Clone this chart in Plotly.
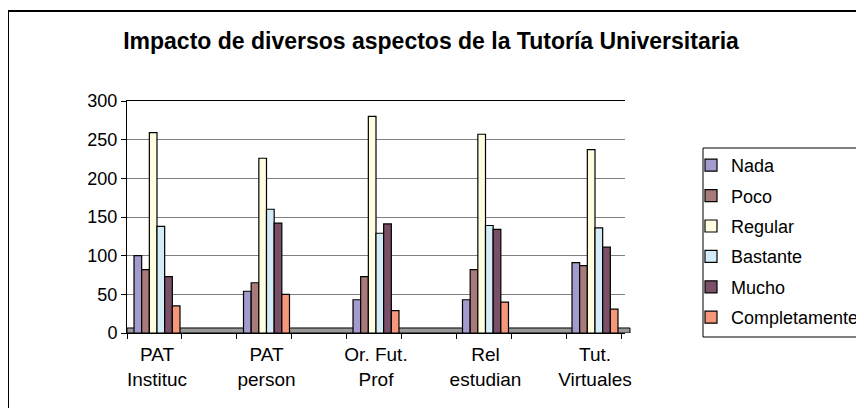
import plotly.graph_objects as go

categories = ["PAT<br>Instituc", "PAT<br>person", "Or. Fut.<br>Prof", "Rel<br>estudian", "Tut.<br>Virtuales"]
series_names = ["Nada", "Poco", "Regular", "Bastante", "Mucho", "Completamente"]
nada = [100, 54, 43, 43, 91]
poco = [82, 65, 73, 82, 87]
regular = [259, 226, 280, 257, 237]
bastante = [138, 160, 129, 139, 136]
mucho = [73, 142, 141, 134, 111]
completamente = [35, 50, 29, 40, 31]
y_ticks = [0, 50, 100, 150, 200, 250, 300]

series_values = [nada, poco, regular, bastante, mucho, completamente]
colors = ["#a39bcd", "#a87a7a", "#fffde0", "#d4ecf8", "#7a5068", "#f4977a"]

FONT = "Liberation Sans, Arial, sans-serif"
xpos = list(range(len(categories)))

# the page body adds an 8px offset; layout is compensated for it
OFF = 8
PL, PR, PT, PB = 127 - OFF, 625 - OFF, 101 - OFF, 333 - OFF
PW, PH = PR - PL, PB - PT


def px_x(x):
    return (x - 127) / PW


def px_y(y):
    return (333 - y) / PH


fig = go.Figure()
for name, vals, col in zip(series_names, series_values, colors):
    fig.add_trace(go.Bar(
        x=xpos, y=vals, name=name, legendgroup=name,
        marker=dict(color=col, line=dict(color="black", width=1.2)),
    ))

fig.update_layout(
    width=864, height=408,
    margin=dict(l=PL, r=864 - PR, t=PT, b=408 - PB, autoexpand=False),
    paper_bgcolor="white", plot_bgcolor="white",
    barmode="group", bargap=0.58, bargroupgap=0,
    font=dict(family=FONT, size=18, color="black"),
    title=dict(text="<b>Impacto de diversos aspectos de la Tutoría Universitaria</b>",
               x=(431 - OFF) / 864, xanchor="center", y=1 - (41 - OFF) / 408, yanchor="middle",
               font=dict(family=FONT, size=23, color="black")),
    showlegend=True,
    legend=dict(x=px_x(691), y=px_y(147), xanchor="left", yanchor="top",
                borderwidth=0, bgcolor="rgba(0,0,0,0)",
                font=dict(family=FONT, size=18, color="black"),
                tracegroupgap=4, traceorder="grouped"),
    xaxis=dict(range=[-0.274, 4.274], tickmode="array", tickvals=xpos, ticktext=categories,
               ticks="", showline=True, linecolor="black", linewidth=1, mirror=True,
               showgrid=False, zeroline=False, ticklabelstandoff=4,
               tickfont=dict(family=FONT, size=19, color="black"),
               minor=dict(ticks="outside", tick0=-0.274, dtick=0.502, ticklen=5,
                          tickcolor="black", showgrid=False)),
    yaxis=dict(range=[0, 300], tickmode="array", tickvals=y_ticks,
               ticks="outside", ticklen=5, tickcolor="black",
               showline=True, linecolor="black", linewidth=1,
               showgrid=True, gridcolor="#808080", gridwidth=1, zeroline=False,
               tickfont=dict(family=FONT, size=18, color="black")),
    shapes=[
        dict(type="rect", xref="paper", yref="y", x0=0, x1=1.01, y0=0, y1=6.5,
             fillcolor="#999999", line=dict(color="black", width=1), layer="below"),
        dict(type="rect", xref="paper", yref="paper",
             x0=px_x(8), x1=px_x(900), y0=px_y(450), y1=px_y(11),
             fillcolor="rgba(0,0,0,0)", line=dict(color="black", width=2), layer="below"),
        dict(type="rect", xref="paper", yref="paper",
             x0=px_x(703), x1=px_x(900), y0=px_y(337), y1=px_y(148),
             fillcolor="white", line=dict(color="black", width=1), layer="below"),
    ],
)

fig.write_html("out.html")
